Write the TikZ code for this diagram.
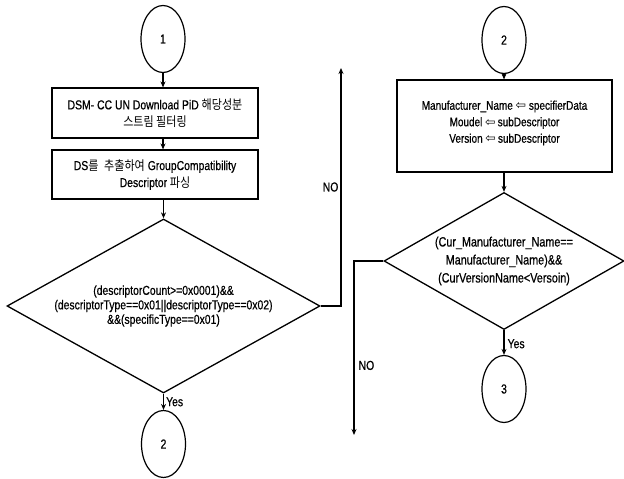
\documentclass[tikz,border=0pt]{standalone}
\usepackage{fontspec}
\setmainfont{Liberation Sans}[FakeStretch=0.8,FakeBold=0.6]
\newfontfamily\kr{Noto Sans CJK KR}[FakeStretch=0.85]
\newfontfamily\symf{DejaVu Sans}
\usetikzlibrary{shapes.geometric,arrows.meta}
\newcommand{\larr}{{\symf\char"21E6}}
\begin{document}
\begin{tikzpicture}[x=1pt,y=-1pt,
  conn/.style={line width=1.3pt},
  arr/.style={conn,-{Stealth[length=6pt,width=5pt]}},
  procbox/.style={draw,line width=1.1pt,inner sep=0pt},
  decis/.style={draw,diamond,line width=1.3pt,inner sep=0pt},
  conncircle/.style={draw,ellipse,line width=1.2pt,minimum width=44pt,minimum height=67pt,inner sep=0pt,font=\fontsize{13}{15}\selectfont},
  txt/.style={align=center,inner sep=0pt,font=\fontsize{13}{17}\selectfont},
  lbl/.style={inner sep=0pt,font=\fontsize{13}{15}\selectfont}]
\useasboundingbox (0,0) rectangle (624,479);

% left column
\node[conncircle] (c1) at (163,39) {1};
\node[procbox,minimum width=206pt,minimum height=50pt] (b1) at (155,113) {};
\node[txt] at (b1.center) {DSM- CC UN Download PiD {\kr 해당성분}\\{\kr 스트림 필터링}};
\node[procbox,minimum width=206pt,minimum height=49pt] (b2) at (155,174.5) {};
\node[txt] at (b2.center) {DS{\kr 를}\ \ {\kr 추출하여} GroupCompatibility\\Descriptor {\kr 파싱}};
\node[decis,minimum width=313pt,minimum height=174pt] (d1) at (163.5,306) {};
\node[txt,font=\fontsize{13}{14.5}\selectfont] at (d1.center) {(descriptorCount>=0x0001)\&\&\\(descriptorType==0x01||descriptorType==0x02)\\\&\&(specificType==0x01)};
\node[conncircle] (c2) at (163.5,444) {2};

\draw[arr] (c1.south) -- (c1.south |- b1.north);
\draw[arr] (b1.south -| c1.south) -- (c1.south |- b2.north);
\draw[arr] (b2.south -| d1.north) -- (d1.north);
\draw[arr] (d1.south) -- node[lbl,anchor=west,xshift=2pt,pos=0.5] {Yes} (c2.north);
\coordinate (n1) at (341,68);
\draw[arr] (d1.east) -| node[lbl,anchor=east,pos=0.75,xshift=-2pt] {NO} (n1);

% right column
\node[conncircle] (c2r) at (504,40) {2};
\node[procbox,minimum width=215pt,minimum height=92pt] (b3) at (504.5,126) {};
\node[txt,font=\fontsize{12.5}{16.5}\selectfont] at (504.5,123) {Manufacturer\_Name \larr\ specifierData\\Moudel \larr\,subDescriptor\\Version \larr\,subDescriptor};
\node[decis,minimum width=240pt,minimum height=137pt] (d2) at (504,261) {};
\node[txt,font=\fontsize{13.5}{18}\selectfont] at (d2.center) {(Cur\_Manufacturer\_Name==\\Manufacturer\_Name)\&\&\\(CurVersionName<Versoin)};
\node[conncircle] (c3) at (504,389) {3};

\draw[arr] (c2r.south) -- (c2r.south |- b3.north);
\draw[arr] (b3.south -| d2.north) -- (d2.north);
\draw[arr] (d2.south) -- node[lbl,anchor=west,xshift=3pt,pos=0.55] {Yes} (c3.north);
\coordinate (n2) at (354,435);
\draw[arr] (d2.west) -| node[lbl,anchor=west,pos=0.8,xshift=4pt] {NO} (n2);
\end{tikzpicture}
\end{document}
